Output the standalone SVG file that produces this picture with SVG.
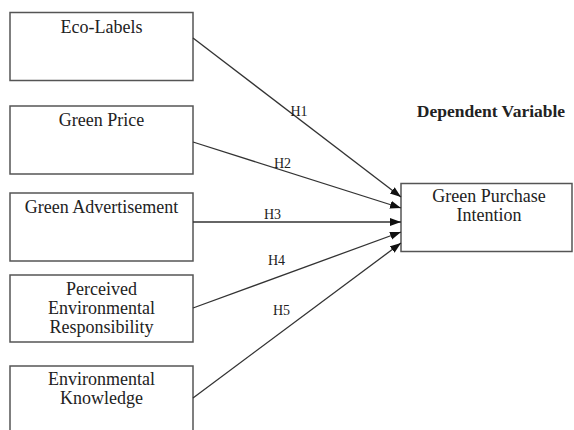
<svg xmlns="http://www.w3.org/2000/svg" width="574" height="430" viewBox="0 0 574 430">
<style>
.box{fill:#fff;stroke:#555;stroke-width:1.5}
.t{font-family:"Liberation Serif","Times New Roman",serif;font-size:18px;fill:#222;text-anchor:middle}
.h{font-family:"Liberation Serif","Times New Roman",serif;font-size:14px;fill:#222}
.b{font-family:"Liberation Serif","Times New Roman",serif;font-size:17.5px;font-weight:bold;fill:#222;text-anchor:middle}
.c{stroke:#333;stroke-width:1.3;fill:none;marker-end:url(#ah)}
</style>
<defs>
<marker id="ah" markerWidth="12" markerHeight="10" refX="11" refY="4" orient="auto" markerUnits="userSpaceOnUse">
<path d="M0,0 L11,4 L0,8 Z" fill="#111"/>
</marker>
</defs>
<rect width="574" height="430" fill="#fff"/>
<g id="eco-labels"><rect class="box" x="10" y="12.5" width="183" height="68"/><text class="t" x="101.5" y="33">Eco-Labels</text></g>
<g id="green-price"><rect class="box" x="10" y="106" width="183" height="68"/><text class="t" x="101.5" y="126">Green Price</text></g>
<g id="green-advertisement"><rect class="box" x="10" y="193" width="183" height="68"/><text class="t" x="101.5" y="212.5">Green Advertisement</text></g>
<g id="perceived-env-resp"><rect class="box" x="10" y="275" width="183" height="67"/><text class="t" x="101.5" y="295">Perceived</text><text class="t" x="101.5" y="314">Environmental</text><text class="t" x="101.5" y="333">Responsibility</text></g>
<g id="env-knowledge"><rect class="box" x="10" y="366" width="183" height="70"/><text class="t" x="101.5" y="385">Environmental</text><text class="t" x="101.5" y="404">Knowledge</text></g>
<g id="green-purchase-intention"><rect class="box" x="401" y="183.5" width="171" height="68"/><text class="t" x="489" y="202">Green Purchase</text><text class="t" x="489" y="220.5">Intention</text></g>
<g id="dependent-variable-label"><text class="b" x="491" y="116.5">Dependent Variable</text></g>
<g id="connectors">
<line class="c" x1="193" y1="38" x2="401" y2="197"/>
<line class="c" x1="193" y1="142" x2="401" y2="208"/>
<line class="c" x1="193" y1="222" x2="401" y2="222"/>
<line class="c" x1="193" y1="308" x2="401" y2="232"/>
<line class="c" x1="193" y1="398" x2="401" y2="243"/>
<text class="h" x="290.5" y="116">H1</text>
<text class="h" x="274" y="167.5">H2</text>
<text class="h" x="264" y="218.5">H3</text>
<text class="h" x="268" y="265">H4</text>
<text class="h" x="273" y="314.5">H5</text>
</g>
</svg>
